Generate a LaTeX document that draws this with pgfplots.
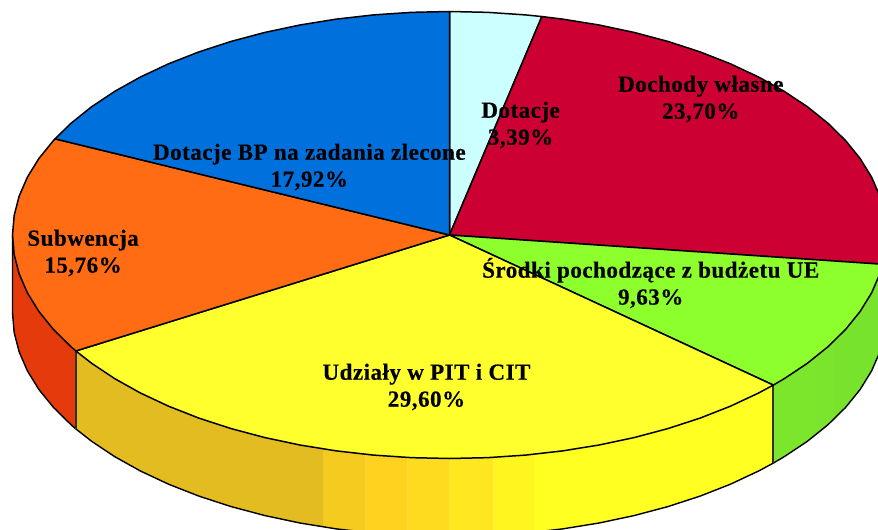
\documentclass[border=0pt]{standalone}
\usepackage{pgfplots}
\pgfplotsset{compat=1.18}
\usepackage{fontspec}
\setmainfont[LetterSpace=2,BoldFeatures={FakeBold=0.25}]{Liberation Serif}
\definecolor{cBlue}{HTML}{0070DD}
\definecolor{cCyan}{HTML}{CCFFFF}
\definecolor{cRed}{HTML}{CC0033}
\definecolor{cGreen}{HTML}{8CFF2C}
\definecolor{cYellow}{HTML}{FFFF2E}
\definecolor{cOrange}{HTML}{FF6C14}
\definecolor{sOrange}{HTML}{E53A0B}
\definecolor{sRed}{HTML}{A80026}
\definecolor{sG1}{HTML}{7CE62C}
\definecolor{sG2}{HTML}{7AE52C}
\definecolor{sG3}{HTML}{78E32C}
\definecolor{sY1}{HTML}{E2BC20}
\definecolor{sY2}{HTML}{F5CB1F}
\definecolor{sY3}{HTML}{FFD21F}
\definecolor{sY4}{HTML}{FFDB1F}
\definecolor{sY5}{HTML}{FFE81F}
\definecolor{sY6}{HTML}{FFF51F}
\definecolor{sY7}{HTML}{FFFF22}
\tikzset{
  wedge/.style={draw=black, line width=1.5pt, line join=round},
  band/.style={draw=#1, fill=#1, line width=0.3pt},
  edge/.style={draw=black, line width=1.4pt, line join=round},
  vedge/.style={draw=black!85!olive, line width=2pt},
  lab/.style={font=\fontsize{23.1}{27}\selectfont\bfseries, align=center, text=black, inner sep=0pt},
}
\begin{document}
\begin{tikzpicture}
\path[use as bounding box] (0,0) rectangle (878pt,530pt);
\begin{axis}[
  at={(0pt,0pt)}, anchor=south west,
  hide axis, scale only axis, width=878pt, height=530pt,
  xmin=0.014, xmax=877.01, ymin=0, ymax=530, y dir=reverse,
  clip=true,
]
% sides
\addplot[band=sOrange] coordinates {(12.5,235)(14.16,254.48)(19.13,273.81)(27.37,292.85)(38.82,311.44)(53.4,329.46)(70.98,346.75)(75.84,350.95)(75.84,428.95)(70.98,424.75)(53.4,407.46)(38.82,389.44)(27.37,370.85)(19.13,351.81)(14.16,332.48)(12.5,313)} -- cycle;
\addplot[band=sY1] coordinates {(75.84,350.95)(91.44,363.2)(114.62,378.66)(140.35,393.04)(168.42,406.21)(198.63,418.08)(230.75,428.56)(264.53,437.56)(299.71,445.02)(323,449)(323,527)(299.71,523.02)(264.53,515.56)(230.75,506.56)(198.63,496.08)(168.42,484.21)(140.35,471.04)(114.62,456.66)(91.44,441.2)(75.84,428.95)} -- cycle;
\addplot[band=sY2] coordinates {(323,449)(336.02,450.89)(365,454.3)(365,532.3)(336.02,528.89)(323,527)} -- cycle;
\addplot[band=sY3] coordinates {(365,454.3)(373.2,455.1)(407,457.46)(407,535.46)(373.2,533.1)(365,532.3)} -- cycle;
\addplot[band=sY4] coordinates {(407,457.46)(449,458.5)(449,536.5)(407,535.46)} -- cycle;
\addplot[band=sY5] coordinates {(449,458.5)(487.04,457.65)(493,457.4)(493,535.4)(487.04,535.65)(449,536.5)} -- cycle;
\addplot[band=sY6] coordinates {(493,457.4)(524.8,455.1)(534,454.2)(534,532.2)(524.8,533.1)(493,535.4)} -- cycle;
\addplot[band=sY7] coordinates {(534,454.2)(561.98,450.89)(598.29,445.02)(633.47,437.56)(667.25,428.56)(699.37,418.08)(729.58,406.21)(757.65,393.04)(772.45,385.08)(772.45,463.08)(757.65,471.04)(729.58,484.21)(699.37,496.08)(667.25,506.56)(633.47,515.56)(598.29,523.02)(561.98,528.89)(534,532.2)} -- cycle;
\addplot[band=sG1] coordinates {(772.45,385.08)(783.38,378.66)(806.56,363.2)(815,356.8)(815,434.8)(806.56,441.2)(783.38,456.66)(772.45,463.08)} -- cycle;
\addplot[band=sG2] coordinates {(815,356.8)(827.02,346.75)(835,339.4)(835,417.4)(827.02,424.75)(815,434.8)} -- cycle;
\addplot[band=sG3] coordinates {(835,339.4)(844.6,329.46)(859.18,311.44)(870.63,292.85)(878.87,273.81)(881.74,264.27)(881.74,342.27)(878.87,351.81)(870.63,370.85)(859.18,389.44)(844.6,407.46)(835,417.4)} -- cycle;
\addplot[band=sRed] coordinates {(881.74,264.27)(883.84,254.48)(885.5,235)(885.5,313)(883.84,332.48)(881.74,342.27)} -- cycle;
% outline of the lower rim and the vertical edges
\addplot[edge] coordinates {(12.5,235)(12.5,313)(14.16,332.48)(19.13,351.81)(27.37,370.85)(38.82,389.44)(53.4,407.46)(70.98,424.75)(75.84,428.95)(91.44,441.2)(114.62,456.66)(140.35,471.04)(168.42,484.21)(198.63,496.08)(230.75,506.56)(264.53,515.56)(299.71,523.02)(336.02,528.89)(373.2,533.1)(410.96,535.65)(449,536.5)(487.04,535.65)(524.8,533.1)(561.98,528.89)(598.29,523.02)(633.47,515.56)(667.25,506.56)(699.37,496.08)(729.58,484.21)(757.65,471.04)(772.45,463.08)(783.38,456.66)(806.56,441.2)(827.02,424.75)(844.6,407.46)(859.18,389.44)(870.63,370.85)(878.87,351.81)(883.84,332.48)(885.5,313)};
\addplot[vedge] coordinates {(75.84,350.95)(75.84,428.95)};
\addplot[vedge] coordinates {(772.45,385.08)(772.45,463.08)};
% top
\addplot[wedge, fill=cCyan] coordinates {(449,235)(449,11.5)(487.04,12.35)(524.8,14.9)(541.24,16.55)} -- cycle;
\addplot[wedge, fill=cRed] coordinates {(449,235)(541.24,16.55)(561.98,19.11)(598.29,24.98)(633.47,32.44)(667.25,41.44)(699.37,51.92)(729.58,63.79)(757.65,76.96)(783.38,91.34)(806.56,106.8)(827.02,123.25)(844.6,140.54)(859.18,158.56)(870.63,177.15)(878.87,196.19)(883.84,215.52)(885.5,235)(883.84,254.48)(881.74,264.27)} -- cycle;
\addplot[wedge, fill=cGreen] coordinates {(449,235)(881.74,264.27)(878.87,273.81)(870.63,292.85)(859.18,311.44)(844.6,329.46)(827.02,346.75)(806.56,363.2)(783.38,378.66)(772.45,385.08)} -- cycle;
\addplot[wedge, fill=cYellow] coordinates {(449,235)(772.45,385.08)(757.65,393.04)(729.58,406.21)(699.37,418.08)(667.25,428.56)(633.47,437.56)(598.29,445.02)(561.98,450.89)(524.8,455.1)(487.04,457.65)(449,458.5)(410.96,457.65)(373.2,455.1)(336.02,450.89)(299.71,445.02)(264.53,437.56)(230.75,428.56)(198.63,418.08)(168.42,406.21)(140.35,393.04)(114.62,378.66)(91.44,363.2)(75.84,350.95)} -- cycle;
\addplot[wedge, fill=cOrange] coordinates {(449,235)(75.84,350.95)(70.98,346.75)(53.4,329.46)(38.82,311.44)(27.37,292.85)(19.13,273.81)(14.16,254.48)(12.5,235)(14.16,215.52)(19.13,196.19)(27.37,177.15)(38.82,158.56)(53.4,140.54)(54.97,138.83)} -- cycle;
\addplot[wedge, fill=cBlue] coordinates {(449,235)(54.97,138.83)(70.98,123.25)(91.44,106.8)(114.62,91.34)(140.35,76.96)(168.42,63.79)(198.63,51.92)(230.75,41.44)(264.53,32.44)(299.71,24.98)(336.02,19.11)(373.2,14.9)(410.96,12.35)(449,11.5)} -- cycle;
% labels
\node[lab] at (axis cs:520,125) {Dotacje\\3,39\%};
\node[lab] at (axis cs:700,99) {Dochody własne\\23,70\%};
\node[lab] at (axis cs:650,283) {Środki pochodzące z budżetu UE\\9,63\%};
\node[lab] at (axis cs:426,387) {Udziały w PIT i CIT\\29,60\%};
\node[lab] at (axis cs:83,253) {Subwencja\\15,76\%};
\node[lab] at (axis cs:309,167) {Dotacje BP na zadania zlecone\\17,92\%};
\end{axis}
\end{tikzpicture}
\end{document}
